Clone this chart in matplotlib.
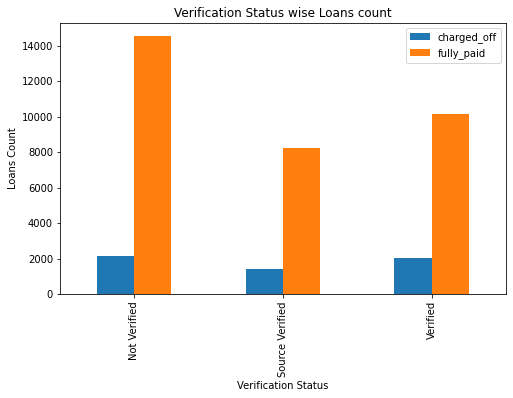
import matplotlib
matplotlib.use("Agg")
import matplotlib.pyplot as plt
import numpy as np

# data
status = ["Not Verified", "Source Verified", "Verified"]
charged_off = [2142, 1434, 2051]
fully_paid = [14552, 8243, 10155]

fig = plt.figure(figsize=(513 / 72, 398 / 72), dpi=72)
ax = fig.add_axes([0.117, 0.261, 0.869, 0.681])

x = np.arange(len(status))
w = 0.25
ax.bar(x - w / 2, charged_off, w, color="#1f77b4", label="charged_off")
ax.bar(x + w / 2, fully_paid, w, color="#ff7f0e", label="fully_paid")

ax.set_xlim(-0.5, 2.5)
ax.set_xticks(x)
ax.set_xticklabels(status, rotation=90)
ax.set_xlabel("Verification Status")
ax.set_ylabel("Loans Count")
ax.set_title("Verification Status wise Loans count")
ax.legend(loc="upper right")

fig.savefig("out.png", dpi=72, facecolor="white")
